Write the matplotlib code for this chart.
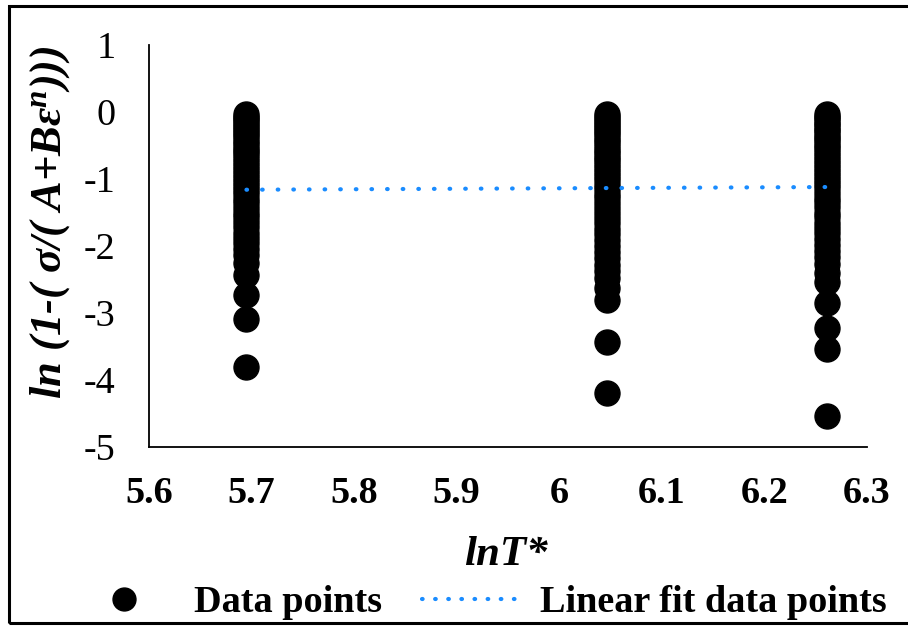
import matplotlib
matplotlib.use("Agg")
import matplotlib.pyplot as plt
from matplotlib.lines import Line2D
from matplotlib.patches import Rectangle

plt.rcParams["font.family"] = ["Liberation Serif", "DejaVu Serif"]
plt.rcParams["mathtext.fontset"] = "custom"
plt.rcParams["mathtext.it"] = "Liberation Serif:italic:bold"
plt.rcParams["mathtext.rm"] = "Liberation Serif:bold"
plt.rcParams["mathtext.bf"] = "Liberation Serif:bold"
plt.rcParams["axes.unicode_minus"] = False

# lnT* values of the three test temperatures
x_groups = [5.695, 6.047, 6.261]

# ln(1-(sigma/(A+B eps^n))) values at each temperature
y_group1 = [-0.03, -0.07, -0.11, -0.15, -0.19, -0.24, -0.28, -0.33, -0.38, -0.43,
            -0.48, -0.53, -0.58, -0.63, -0.69, -0.74, -0.80, -0.86, -0.92, -0.98,
            -1.04, -1.10, -1.17, -1.23, -1.30, -1.36, -1.43, -1.50, -1.57, -1.64,
            -1.72, -1.80, -1.88, -1.96, -2.05, -2.13, -2.25, -2.43, -2.73, -3.09,
            -3.81]
y_group2 = [-0.03, -0.07, -0.12, -0.16, -0.21, -0.25, -0.30, -0.35, -0.40, -0.45,
            -0.50, -0.56, -0.61, -0.67, -0.72, -0.78, -0.84, -0.90, -0.96, -1.02,
            -1.09, -1.15, -1.22, -1.29, -1.36, -1.43, -1.51, -1.58, -1.66, -1.74,
            -1.82, -1.91, -2.00, -2.09, -2.18, -2.28, -2.38, -2.48, -2.62, -2.80,
            -3.43, -4.19]
y_group3 = [-0.03, -0.07, -0.11, -0.16, -0.20, -0.25, -0.29, -0.34, -0.39, -0.44,
            -0.49, -0.54, -0.60, -0.65, -0.71, -0.77, -0.83, -0.89, -0.95, -1.01,
            -1.08, -1.14, -1.21, -1.28, -1.35, -1.42, -1.50, -1.57, -1.65, -1.73,
            -1.81, -1.90, -1.99, -2.08, -2.17, -2.27, -2.40, -2.54, -2.85, -3.22,
            -3.54, -4.54]

# linear fit through all points
fit_x = [5.695, 6.261]
fit_y = [-1.16, -1.12]

x_ticks = [5.6, 5.7, 5.8, 5.9, 6.0, 6.1, 6.2, 6.3]
x_tick_labels = ["5.6", "5.7", "5.8", "5.9", "6", "6.1", "6.2", "6.3"]
y_ticks = [1, 0, -1, -2, -3, -4, -5]

FS = 27.5
W, H = 908, 626
fig = plt.figure(figsize=(W / 100, H / 100), dpi=100)
ax = fig.add_axes([149 / W, 1 - 447 / H, (867 - 149) / W, (447 - 45) / H])

xs, ys = [], []
for xv, grp in zip(x_groups, [y_group1, y_group2, y_group3]):
    xs.extend([xv] * len(grp))
    ys.extend(grp)
ax.plot(xs, ys, linestyle="none", marker="o", markersize=18, color="black",
        zorder=2)
fit_color = "#1a8cff"
ax.plot(fit_x, fit_y, color=fit_color, linewidth=3,
        linestyle=(0, (0.15, 3.6)), dash_capstyle="round", zorder=3)

ax.set_xlim(5.6, 6.3)
ax.set_ylim(-5, 1)
ax.set_xticks(x_ticks)
ax.set_xticklabels(x_tick_labels)
ax.set_yticks(y_ticks)
ax.tick_params(axis="both", length=0, labelsize=FS)
ax.tick_params(axis="x", pad=21)
ax.tick_params(axis="y", pad=24)
for lab in ax.get_xticklabels():
    lab.set_fontweight("bold")
for side in ("top", "right"):
    ax.spines[side].set_visible(False)
for side in ("left", "bottom"):
    ax.spines[side].set_linewidth(1.3)
    ax.spines[side].set_color("black")

fig.text(506 / W, 1 - 555 / H, "lnT*", fontsize=31, fontweight="bold",
         fontstyle="italic", ha="center", va="center")
fig.text(50 / W, 1 - 222 / H, r"ln (1-( σ/( A+Bε$^{n}$)))", fontsize=32,
         fontweight="bold", fontstyle="italic", rotation=90,
         ha="center", va="center")

handles = [
    Line2D([], [], linestyle="none", marker="o", markersize=16.5, color="black"),
    Line2D([], [], color=fit_color, linewidth=3, linestyle=(0, (0.15, 3.0)),
           dash_capstyle="round"),
]
leg = fig.legend(handles, ["Data points", "Linear fit data points"],
                 loc="center", bbox_to_anchor=(481 / W, 1 - 603 / H), ncol=2,
                 frameon=False, handlelength=2.55, handletextpad=0.55,
                 columnspacing=1.05, borderpad=0,
                 prop={"size": FS, "weight": "bold"})

# outer frame of the figure
fig.patches.append(Rectangle((9 / W, 1 - 623 / H), 1.2, (623 - 6) / H,
                             transform=fig.transFigure, fill=False,
                             edgecolor="black", linewidth=2.2, clip_on=False))

fig.savefig("out.png", dpi=100)
